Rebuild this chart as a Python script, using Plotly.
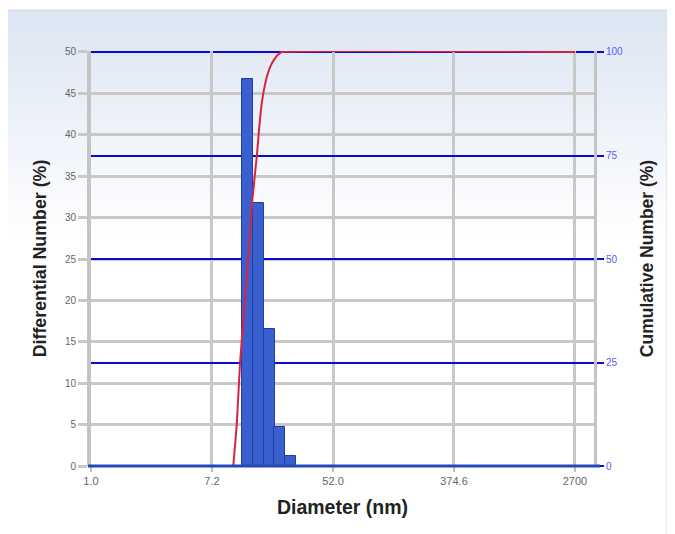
import numpy as np
import plotly.graph_objects as go

# ---- data ----
bar_diameters = [12.8, 15.3, 18.3, 21.8, 26.1]        # nm (bin centres)
bar_values = [46.7, 31.8, 16.5, 4.7, 1.2]              # differential number %
cum_diameters = [10.2, 10.8, 11.4, 12.2, 13.0, 13.9, 15.0, 15.6, 16.3, 17.1,
                 18.0, 19.0, 20.2, 21.4, 22.6, 2700]
cum_values = [0, 10, 25, 38, 50, 64, 75, 82, 88, 92, 95, 97, 98.5, 99.5, 100, 100]
x_tick_labels = ["1.0", "7.2", "52.0", "374.6", "2700"]
x_tick_values = [1.0, 7.2, 52.0, 374.6, 2700]

OFF = 8  # page body margin
W, H = 675 - OFF, 534 - OFF
L, R, T, B = 91 - OFF, 594 - OFF, 51 - OFF, 466 - OFF

fig = go.Figure()

fig.add_trace(go.Bar(
    x=np.log10(bar_diameters), y=bar_values, width=0.0773,
    marker=dict(color="#3a60d0", line=dict(color="#1d3fa3", width=1)),
    yaxis="y", showlegend=False))

fig.add_trace(go.Scatter(
    x=np.log10(cum_diameters), y=cum_values, yaxis="y2", mode="lines",
    line=dict(color="#d9233f", width=2, shape="spline", smoothing=0.4),
    showlegend=False))


def px(xp):
    return (xp - OFF - L) / (R - L)


def py(yp):
    return (B - (yp - OFF)) / (B - T)


# background gradient and frame
shapes = []
n = 40
y0p, y1p = 10, 240
for i in range(n):
    t = i / (n - 1)
    r = int(221 + (255 - 221) * t)
    g = int(230 + (255 - 230) * t)
    b = int(243 + (255 - 243) * t)
    ya = y0p + (y1p - y0p) * i / n
    yb = y0p + (y1p - y0p) * (i + 1) / n + 1
    shapes.append(dict(type="rect", xref="paper", yref="paper", layer="below",
                       x0=px(7), x1=px(667), y0=py(yb), y1=py(ya),
                       line=dict(width=0), fillcolor=f"rgb({r},{g},{b})"))
shapes.append(dict(type="rect", xref="paper", yref="paper", layer="below",
                   x0=px(7), x1=px(667), y0=py(545), y1=py(10),
                   line=dict(color="#d8d8d8", width=1), fillcolor="rgba(0,0,0,0)"))
shapes.append(dict(type="rect", xref="paper", yref="paper", layer="below",
                   x0=px(668), x1=px(676), y0=py(545), y1=py(0),
                   line=dict(width=0), fillcolor="#e9e4da"))
# blue baseline and top line of the cumulative axis
shapes.append(dict(type="line", xref="paper", yref="paper", layer="above",
                   x0=px(88), x1=px(600), y0=0, y1=0,
                   line=dict(color="#2448b8", width=3)))
shapes.append(dict(type="line", xref="paper", yref="y2", layer="between",
                   x0=0, x1=1, y0=100, y1=100,
                   line=dict(color="#0a0ad0", width=2)))

font = "Liberation Sans, Arial, sans-serif"

fig.update_layout(
    width=W, height=H,
    margin=dict(l=L, r=W - R, t=T, b=H - B),
    paper_bgcolor="white", plot_bgcolor="rgba(0,0,0,0)",
    font=dict(family=font, color="#555"),
    bargap=0, shapes=shapes,
    xaxis=dict(range=[0, 3.5662], tickvals=np.log10(x_tick_values),
               ticktext=x_tick_labels, showgrid=True, gridcolor="#c8c8c8",
               gridwidth=3, zeroline=False, showline=False,
               ticks="outside", ticklen=5, tickcolor="#c0c0c0", tickwidth=2,
               tickfont=dict(size=11, color="#666"),
               title=dict(text="Diameter (nm)", standoff=14,
                          font=dict(size=19.5, color="#222", weight="bold"))),
    yaxis=dict(range=[0, 50.12], tickvals=list(range(0, 51, 5)),
               showgrid=True, gridcolor="#c8c8c8",
               gridwidth=3, zeroline=False, showline=True, linecolor="#c4c4c4",
               linewidth=4, ticks="outside", ticklen=9, tickcolor="#c8c8c8",
               tickwidth=3, tickfont=dict(size=10, color="#666"),
               title=dict(text="Differential Number (%)", standoff=15,
                          font=dict(size=17.8, color="#222", weight="bold"))),
    yaxis2=dict(range=[0, 100.24], tickvals=[0, 25, 50, 75, 100], overlaying="y",
                side="right",
                showgrid=True, gridcolor="#0a0ad0", gridwidth=2,
                zeroline=False, showline=True, linecolor="#c4c4c4", linewidth=3,
                ticks="outside", ticklen=7, tickcolor="#0a0ad0", tickwidth=2,
                tickfont=dict(size=10, color="#5a5aff"),
                title=dict(text="Cumulative Number (%)", standoff=19,
                           font=dict(size=17.5, color="#222", weight="bold"))),
)

fig.write_html("out.html")
